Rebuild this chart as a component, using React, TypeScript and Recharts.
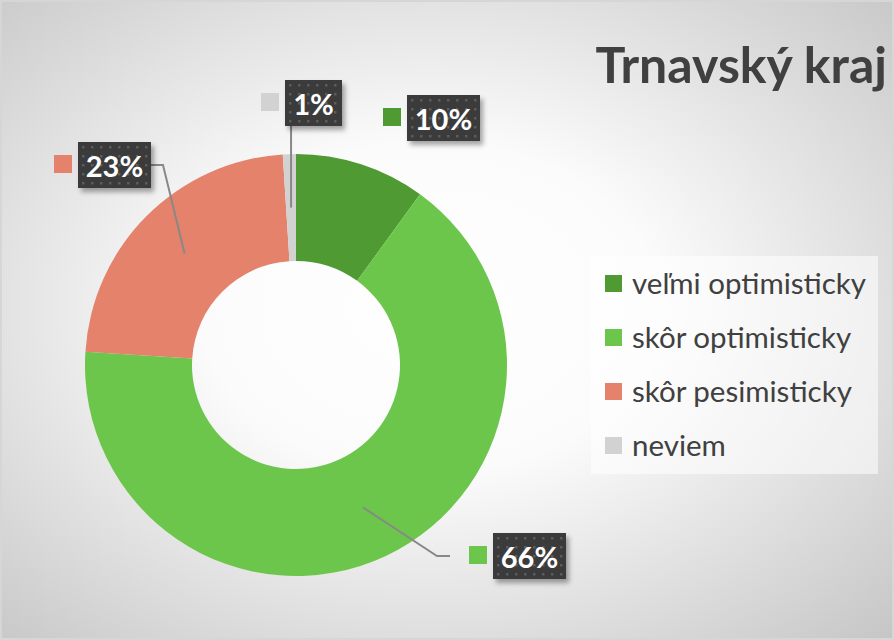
import React from 'react';
import { PieChart, Pie, Cell, Legend } from 'recharts';

const categories = ['veľmi optimisticky', 'skôr optimisticky', 'skôr pesimisticky', 'neviem'];
const shares = [10, 66, 23, 1];
const labelTexts = ['10%', '66%', '23%', '1%'];
const colors = ['#4f9a32', '#6cc64b', '#e4826b', '#d2d2d2'];

const data = categories.map((name, i) => ({ name, value: shares[i] }));

const W = 894;
const H = 640;
const FONT = 'Lato, "Open Sans", sans-serif';
const RAD = Math.PI / 180;

// the labels were dragged by hand in the original, so keep their boxes relative to the pie centre
const labelLayout = [
  { dx: 111, dy: -270, w: 73, leader: 'none' },
  { dx: 197, dy: 168, w: 73, leader: 'left' },
  { dx: -218, dy: -223, w: 73, leader: 'right' },
  { dx: -11, dy: -285, w: 57, leader: 'below' },
];

function renderLabel(props: any) {
  const { cx, cy, midAngle, innerRadius, outerRadius, index } = props;
  const lay = labelLayout[index];
  const left = cx + lay.dx;
  const top = cy + lay.dy;
  const h = 46;
  const midY = top + h / 2;
  const r = (innerRadius + outerRadius) / 2;
  const px = cx + r * Math.cos(-midAngle * RAD);
  const py = cy + r * Math.sin(-midAngle * RAD);
  const markerX = left - 24;

  let pts = '';
  if (lay.leader === 'right') {
    const right = left + lay.w;
    pts = `${px},${py} ${right + 12},${midY} ${right},${midY}`;
  } else if (lay.leader === 'left') {
    pts = `${px},${py} ${markerX - 32},${midY} ${markerX - 19},${midY}`;
  } else if (lay.leader === 'below') {
    pts = `${px},${py} ${px},${top + h}`;
  }

  return (
    <g key={`lbl-${index}`}>
      <defs>
        <pattern id={`dots-${index}`} width={9} height={9} patternUnits="userSpaceOnUse" x={left} y={top}>
          <rect width={9} height={9} fill="#3a3a3a" />
          <rect x={4} y={4} width={2.5} height={2.5} fill="#5c5c5c" />
        </pattern>
        <filter id={`shadow-${index}`} x="-20%" y="-20%" width="150%" height="160%">
          <feDropShadow dx={3} dy={4} stdDeviation={2.5} floodColor="#000" floodOpacity={0.35} />
        </filter>
      </defs>
      {pts && <polyline points={pts} fill="none" stroke="#888" strokeWidth={2} />}
      <rect x={markerX} y={top + 13} width={18} height={18} fill={colors[index]} />
      <rect x={left} y={top} width={lay.w} height={h} fill={`url(#dots-${index})`} filter={`url(#shadow-${index})`} />
      <text
        x={left + lay.w / 2}
        y={midY}
        textAnchor="middle"
        dominantBaseline="central"
        fill="#ffffff"
        fontFamily={FONT}
        fontWeight={700}
        fontSize={29}
      >
        {labelTexts[index]}
      </text>
    </g>
  );
}

function LegendBox() {
  return (
    <div
      style={{
        width: 287,
        height: 218,
        background: 'rgba(255,255,255,0.55)',
        boxSizing: 'border-box',
        paddingTop: 0,
        paddingLeft: 14,
        fontFamily: FONT,
        color: '#404040',
        fontSize: 29.5,
      }}
    >
      {categories.map((c, i) => (
        <div key={c} style={{ display: 'flex', alignItems: 'center', height: 54 }}>
          <span style={{ width: 17, height: 17, background: colors[i], marginRight: 10, flex: 'none' }} />
          <span style={{ lineHeight: 1 }}>{c}</span>
        </div>
      ))}
    </div>
  );
}

export default function App() {
  return (
    <div
      style={{
        position: 'absolute',
        left: 0,
        top: 0,
        width: W,
        height: H,
        boxSizing: 'border-box',
        border: '2px solid #d6d6d6',
        background: 'radial-gradient(ellipse farthest-corner at 48% 48%, #ffffff 0%, #fbfbfb 35%, #c6c6c6 100%)',
        overflow: 'hidden',
      }}
    >
      <div
        style={{
          position: 'absolute',
          right: 5,
          top: 37,
          fontFamily: FONT,
          fontWeight: 700,
          fontSize: 50,
          lineHeight: 1,
          color: '#404040',
        }}
      >
        Trnavský kraj
      </div>
      <div style={{ position: 'absolute', left: -2, top: -2 }}>
        <PieChart width={W} height={H} margin={{ top: 0, right: 0, bottom: 0, left: 0 }}>
          <Pie
            data={data}
            dataKey="value"
            nameKey="name"
            cx={296}
            cy={365}
            innerRadius={104}
            outerRadius={211}
            startAngle={90}
            endAngle={-270}
            stroke="none"
            label={renderLabel}
            labelLine={false}
            isAnimationActive={false}
          >
            {data.map((d, i) => (
              <Cell key={d.name} fill={colors[i]} />
            ))}
          </Pie>
          <Legend
            layout="vertical"
            align="right"
            verticalAlign="top"
            content={() => <LegendBox />}
            wrapperStyle={{ position: 'absolute', left: 591, top: 256, width: 287, right: 'auto' }}
          />
        </PieChart>
      </div>
    </div>
  );
}
